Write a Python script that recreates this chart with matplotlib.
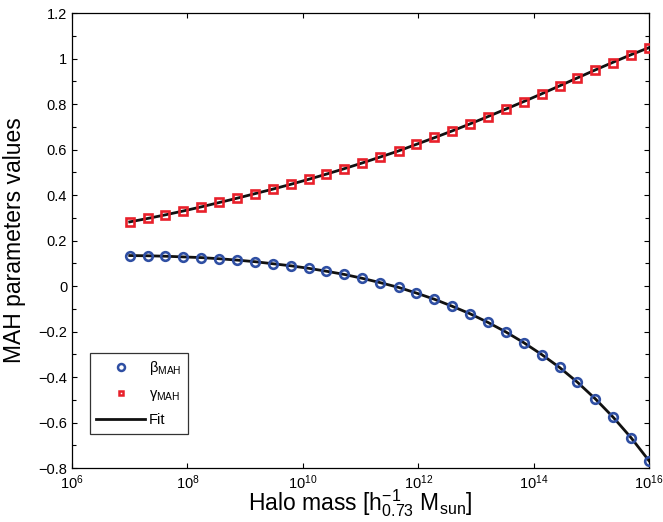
import numpy as np
import matplotlib
matplotlib.use('Agg')
import matplotlib.pyplot as plt
from matplotlib.lines import Line2D
from matplotlib.ticker import FixedLocator, FuncFormatter, MultipleLocator

plt.rcParams['font.family'] = ['Liberation Sans', 'DejaVu Sans']
plt.rcParams['mathtext.fontset'] = 'custom'
plt.rcParams['mathtext.rm'] = 'Liberation Sans'
plt.rcParams['mathtext.it'] = 'Liberation Sans:italic'
plt.rcParams['mathtext.bf'] = 'Liberation Sans:bold'

# halo masses (log10), 30 bins from 1e7 to 1e16
log_mass = [7.00, 7.31, 7.62, 7.93, 8.24, 8.55, 8.86, 9.17, 9.48, 9.79,
            10.10, 10.41, 10.72, 11.03, 11.34, 11.66, 11.97, 12.28, 12.59, 12.90,
            13.21, 13.52, 13.83, 14.14, 14.45, 14.76, 15.07, 15.38, 15.69, 16.00]

beta_mah = [0.133, 0.133, 0.131, 0.129, 0.125, 0.120, 0.114, 0.106, 0.098, 0.089,
            0.078, 0.065, 0.051, 0.034, 0.015, -0.006, -0.031, -0.058, -0.088, -0.122,
            -0.160, -0.201, -0.249, -0.301, -0.358, -0.424, -0.497, -0.577, -0.667, -0.768]

gamma_mah = [0.283, 0.297, 0.314, 0.331, 0.349, 0.368, 0.387, 0.406, 0.426, 0.447,
             0.469, 0.492, 0.516, 0.541, 0.567, 0.595, 0.624, 0.653, 0.682, 0.713,
             0.745, 0.778, 0.811, 0.845, 0.879, 0.913, 0.948, 0.982, 1.016, 1.048]

# fitted curves evaluated on the same mass grid
beta_fit = [0.134, 0.133, 0.131, 0.128, 0.125, 0.120, 0.114, 0.107, 0.098, 0.089,
            0.078, 0.065, 0.051, 0.034, 0.015, -0.006, -0.031, -0.058, -0.089, -0.122,
            -0.160, -0.202, -0.249, -0.301, -0.358, -0.423, -0.496, -0.577, -0.667, -0.768]

gamma_fit = [0.282, 0.297, 0.313, 0.330, 0.348, 0.367, 0.386, 0.406, 0.426, 0.447,
             0.469, 0.492, 0.516, 0.541, 0.567, 0.594, 0.623, 0.652, 0.682, 0.713,
             0.745, 0.778, 0.811, 0.845, 0.880, 0.915, 0.950, 0.984, 1.017, 1.048]

x_ticks = [1e6, 1e8, 1e10, 1e12, 1e14, 1e16]
y_ticks = [-0.8, -0.6, -0.4, -0.2, 0, 0.2, 0.4, 0.6, 0.8, 1, 1.2]

blue = '#2f4fa3'
red = '#e8202a'

mass = 10.0 ** np.array(log_mass)

fig = plt.figure(figsize=(6.63, 5.22), dpi=100)
ax = fig.add_axes([0.1086, 0.1034, 0.8703, 0.8716])

ax.plot(mass, beta_fit, color='#111111', lw=2.0, zorder=2)
ax.plot(mass, gamma_fit, color='#111111', lw=2.0, zorder=2)
ax.plot(mass, beta_mah, 'o', ls='none', ms=6.2, mew=1.9, mfc='none', mec=blue, zorder=3)
ax.plot(mass, gamma_mah, 's', ls='none', ms=5.6, mew=1.9, mfc='none', mec=red, zorder=3)

ax.set_xscale('log')
ax.set_xlim(1e6, 1e16)
ax.set_ylim(-0.8, 1.2)
ax.xaxis.set_major_locator(FixedLocator(x_ticks))
ax.xaxis.set_minor_locator(FixedLocator([]))
ax.yaxis.set_major_locator(FixedLocator(y_ticks))
ax.yaxis.set_minor_locator(MultipleLocator(0.1))
ax.yaxis.set_major_formatter(FuncFormatter(lambda v, p: ('%g' % round(v, 2)).replace('-', '\u2212')))

ax.tick_params(which='both', direction='in', top=True, right=True, width=0.8, labelsize=10.5)
ax.tick_params(which='major', length=3.5)
ax.tick_params(which='minor', length=3)
ax.tick_params(axis='x', which='major', pad=4)
ax.tick_params(axis='y', which='major', pad=3.5)
for s in ax.spines.values():
    s.set_linewidth(0.9)

ax.set_ylabel('MAH parameters values', fontsize=16.5)
ax.yaxis.set_label_coords(-0.08, 0.5)
ax.set_xlabel(r'Halo mass [h$^{-1}_{0.73}$ M$_{\mathrm{sun}}$]', fontsize=16.5, labelpad=-3.5)

handles = [
    Line2D([], [], marker='o', ls='none', ms=5, mew=1.8, mfc='none', mec=blue),
    Line2D([], [], marker='s', ls='none', ms=3.5, mew=1.8, mfc='white', mec=red),
    Line2D([], [], color='#111111', lw=2.0),
]
labels = [r'$\mathrm{\beta}_{\mathrm{MAH}}$', r'$\mathrm{\gamma}_{\mathrm{MAH}}$', 'Fit']
leg = ax.legend(handles, labels, loc='upper left', bbox_to_anchor=(0.031, 0.253),
                fontsize=10.5, handlelength=3.3, handletextpad=0.3, labelspacing=0.68,
                borderpad=0.45, borderaxespad=0, frameon=True, fancybox=False)
leg.get_frame().set_edgecolor('black')
leg.get_frame().set_linewidth(0.9)

fig.savefig('out.png', dpi=100)
